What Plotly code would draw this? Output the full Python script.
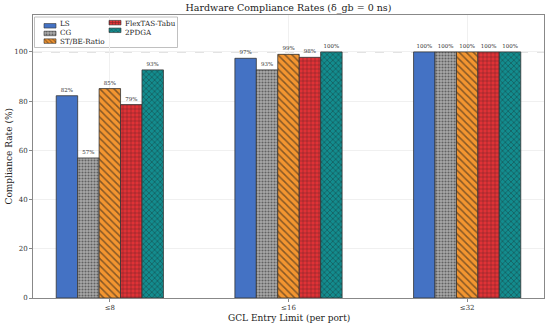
import plotly.graph_objects as go

categories = ["≤8", "≤16", "≤32"]
series_names = ["LS", "CG", "ST/BE-Ratio", "FlexTAS-Tabu", "2PDGA"]
ls_vals = [82.2, 97.4, 100]
cg_vals = [56.9, 92.7, 100]
stbe_vals = [85.1, 99.0, 100]
flex_vals = [78.6, 97.8, 100]
pdga_vals = [92.7, 100, 100]
all_vals = [ls_vals, cg_vals, stbe_vals, flex_vals, pdga_vals]
colors = ["#4472C4", "#A9A9A9", "#F39530", "#E03236", "#138C8E"]
patterns = ["", ".", "\\", "+", "x"]
pat_sizes = [4, 3, 5, 4, 4]
pat_solid = [0.3, 0.4, 0.3, 0.25, 0.3]
y_ticks = [0, 20, 40, 60, 80, 100]

FONT = "DejaVu Serif"
fig = go.Figure()

for name, vals, col, pat, ps, so in zip(series_names, all_vals, colors, patterns, pat_sizes, pat_solid):
    fig.add_trace(go.Bar(
        x=categories, y=vals, name=name,
        marker=dict(color=col, line=dict(color="#333333", width=0.8),
                    pattern=dict(shape=pat, fgcolor="#1a1a1a", bgcolor=col,
                                 size=ps, solidity=so)),
        texttemplate="%{y:.0f}%", textposition="outside",
        textfont=dict(family=FONT, size=5.5, color="#333333"),
        cliponaxis=False, showlegend=False,
    ))

# reference line at 100
fig.add_hline(y=100, line=dict(color="#aaaaaa", width=0.8, dash="dash"), layer="below")

# custom compact legend (matplotlib-like, 2 columns)
L, T, W, H = 33, 15, 511, 283  # plot area in px
def px2paper_x(px):
    return (px - L) / W
def px2paper_y(py):
    return (T + H - py) / H

fig.add_shape(type="rect", xref="paper", yref="paper",
              x0=px2paper_x(34.5), x1=px2paper_x(177.5),
              y0=px2paper_y(47.5), y1=px2paper_y(17),
              line=dict(color="#b0b0b0", width=0.8), fillcolor="rgba(255,255,255,0.9)",
              layer="between")
col_sw_x = [44, 109]
row_y = [23.7, 32.4, 41.1]
sw_w, sw_h = 12, 4.5
for i, (name, col, pat) in enumerate(zip(series_names, colors, patterns)):
    c, r = divmod(i, 3)
    x0 = col_sw_x[c] - L
    yc = T + H - row_y[r]
    fig.add_trace(go.Bar(
        y=[yc], x=[sw_w], base=[x0], orientation="h", width=sw_h,
        xaxis="x2", yaxis="y2", showlegend=False, hoverinfo="skip",
        marker=dict(color=col, line=dict(color="#333333", width=0.6),
                    pattern=dict(shape=pat, fgcolor="#1a1a1a", bgcolor=col,
                                 size=3, solidity=0.35)),
    ))
    fig.add_annotation(xref="paper", yref="paper",
                       x=px2paper_x(col_sw_x[c] + sw_w + 2), y=px2paper_y(row_y[r]),
                       text=name, showarrow=False, xanchor="left", yanchor="middle",
                       font=dict(family=FONT, size=7.2, color="#222222"))

# axis titles as annotations (fixed positions)
fig.add_annotation(xref="paper", yref="paper", x=0.5, y=px2paper_y(317.5),
                   text="GCL Entry Limit (per port)", showarrow=False,
                   xanchor="center", yanchor="middle",
                   font=dict(family=FONT, size=9, color="#222222"))
fig.add_annotation(xref="paper", yref="paper", x=px2paper_x(8), y=0.5,
                   text="Compliance Rate (%)", showarrow=False, textangle=-90,
                   xanchor="center", yanchor="middle",
                   font=dict(family=FONT, size=9, color="#222222"))

fig.update_layout(
    width=550, height=326,
    margin=dict(l=L, r=550 - L - W, t=T, b=326 - T - H, autoexpand=False),
    paper_bgcolor="white", plot_bgcolor="white",
    barmode="group", bargap=0.4, bargroupgap=0,
    title=dict(text="Hardware Compliance Rates (δ_gb = 0 ns)", x=0.5245, xanchor="center",
               y=1 - 7.5 / 326, yanchor="middle", yref="container",
               font=dict(family=FONT, size=9.5, color="#222222")),
    font=dict(family=FONT, color="#333333"),
    xaxis=dict(type="category", range=[-0.43, 2.43], showgrid=True, automargin=False,
               gridcolor="#f0f0f0", gridwidth=0.6,
               showline=True, linecolor="#888888", linewidth=1, mirror=True,
               ticks="outside", ticklen=3, tickcolor="#888888",
               tickfont=dict(family=FONT, size=7, color="#333333")),
    yaxis=dict(range=[0, 115], tickvals=y_ticks, showgrid=True, automargin=False,
               gridcolor="#f0f0f0", gridwidth=0.6, zeroline=False,
               showline=True, linecolor="#888888", linewidth=1, mirror=True,
               ticks="outside", ticklen=3, tickcolor="#888888",
               tickfont=dict(family=FONT, size=7, color="#333333")),
    xaxis2=dict(overlaying="x", range=[0, W], visible=False, fixedrange=True),
    yaxis2=dict(overlaying="y", range=[0, H], visible=False, fixedrange=True),
)

fig.write_html("out.html", config={"displayModeBar": False},
               post_script="document.body.style.margin='0';document.body.style.overflow='hidden';")
